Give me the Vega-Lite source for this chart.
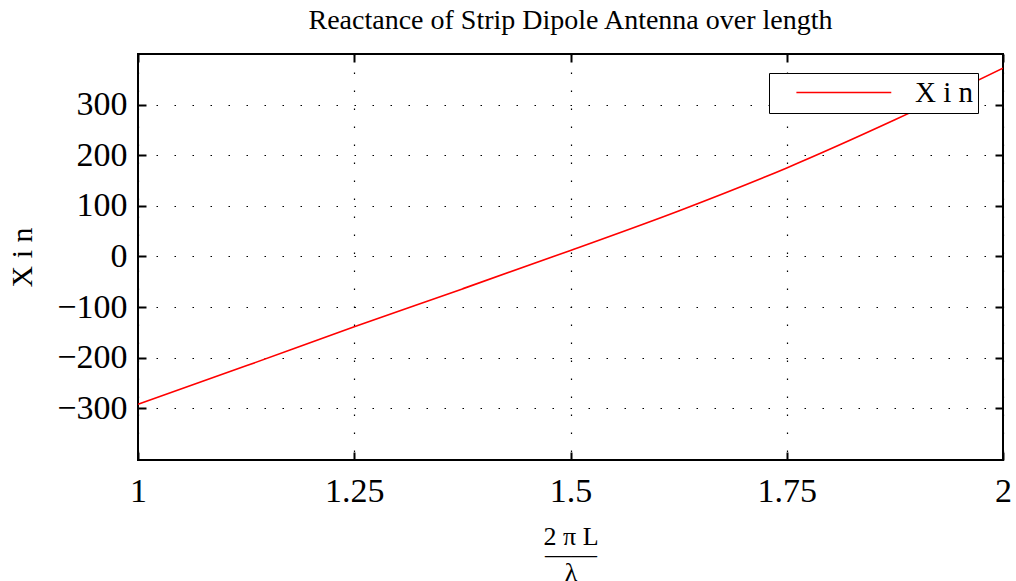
{
  "$schema": "https://vega.github.io/schema/vega-lite/v6.json",
  "width": 865,
  "height": 406,
  "autosize": {"type": "none"},
  "padding": {"left": 138, "top": 54, "right": 13, "bottom": 121},
  "background": "white",
  "title": {
    "text": "Reactance of Strip Dipole Antenna over length",
    "font": "Liberation Serif",
    "fontSize": 28,
    "fontWeight": "normal",
    "color": "black",
    "anchor": "middle",
    "offset": 18
  },
  "data": {
    "values": [
      {"L": 1.0, "X": -292, "s": "X i n"},
      {"L": 1.125, "X": -216, "s": "X i n"},
      {"L": 1.25, "X": -139, "s": "X i n"},
      {"L": 1.375, "X": -64, "s": "X i n"},
      {"L": 1.5, "X": 12, "s": "X i n"},
      {"L": 1.625, "X": 90, "s": "X i n"},
      {"L": 1.75, "X": 175, "s": "X i n"},
      {"L": 1.875, "X": 270, "s": "X i n"},
      {"L": 2.0, "X": 372, "s": "X i n"}
    ]
  },
  "config": {
    "view": {"stroke": "black", "strokeWidth": 2},
    "axis": {
      "domain": false,
      "tickColor": "black",
      "tickWidth": 2,
      "tickSize": -8,
      "grid": true,
      "gridColor": "black",
      "gridOpacity": 1,
      "gridDash": [1.5, 16.5],
      "gridWidth": 1.2,
      "labelFont": "Liberation Serif",
      "labelFontSize": 34,
      "labelColor": "black",
      "titleFont": "Liberation Serif",
      "titleColor": "black",
      "titleFontWeight": "normal"
    }
  },
  "layer": [
    {
      "mark": {"type": "line", "color": "red", "strokeWidth": 1.6, "clip": true, "interpolate": "monotone"},
      "encoding": {
        "x": {
          "field": "L", "type": "quantitative",
          "scale": {"domain": [1, 2], "nice": false, "zero": false},
          "axis": {
            "values": [1, 1.25, 1.5, 1.75, 2],
            "labelExpr": "'' + datum.value",
            "labelPadding": 22,
            "labelFlush": false,
            "title": ["2 π L", "——", "λ"],
            "titleFontSize": 26,
            "titleLineHeight": 18,
            "titlePadding": 15
          }
        },
        "y": {
          "field": "X", "type": "quantitative",
          "scale": {"domain": [-402, 400], "nice": false, "zero": false},
          "axis": {
            "values": [-300, -200, -100, 0, 100, 200, 300],
            "labelPadding": 19,
            "title": "X i n",
            "titleFontSize": 30,
            "titlePadding": 19
          }
        },
        "color": {
          "field": "s", "type": "nominal",
          "scale": {"range": ["red"]},
          "legend": {
            "title": null,
            "orient": "none",
            "legendX": 631,
            "legendY": 19,
            "strokeColor": "black",
            "fillColor": "white",
            "padding": 5,
            "symbolType": "M1,0L13,0",
            "symbolSize": 250,
            "symbolStrokeWidth": 1.6,
            "symbolFillColor": "transparent",
            "labelFont": "Liberation Serif",
            "labelFontSize": 29,
            "labelColor": "black",
            "labelOffset": 112
          }
        }
      }
    },
    {
      "mark": {"type": "line", "strokeOpacity": 0},
      "encoding": {
        "x": {
          "field": "L", "type": "quantitative",
          "scale": {"domain": [1, 2], "nice": false, "zero": false},
          "axis": {"orient": "top", "values": [1, 1.25, 1.5, 1.75, 2], "labels": false, "grid": false, "title": null}
        },
        "y": {
          "field": "X", "type": "quantitative",
          "scale": {"domain": [-402, 400], "nice": false, "zero": false},
          "axis": {"orient": "right", "values": [-300, -200, -100, 0, 100, 200, 300], "labels": false, "grid": false, "title": null}
        }
      }
    }
  ],
  "resolve": {"scale": {"x": "independent", "y": "independent"}}
}
